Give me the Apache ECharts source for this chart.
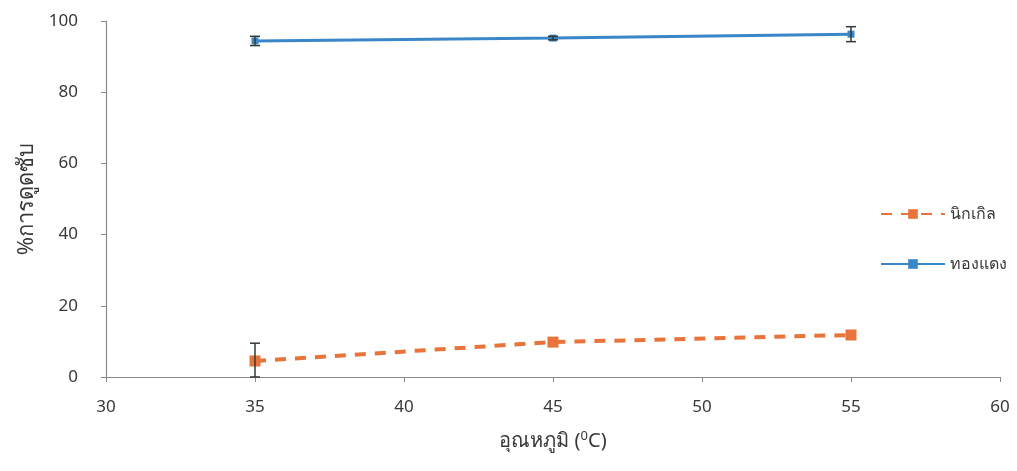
<!DOCTYPE html>
<html>
<head>
<meta charset="utf-8">
<script src="https://cdn.jsdelivr.net/npm/echarts@6/dist/echarts.min.js"></script>
<style>
  html, body { margin: 0; padding: 0; background: #fff; }
  #chart { width: 1017px; height: 471px; }
</style>
</head>
<body>
<div id="chart"></div>
<script>
// Temperature (°C) at which adsorption was measured
const temperatures = [35, 45, 55];
// % adsorption, nickel
const nickelValues = [4.5, 9.8, 11.8];
const nickelErrors = [5.0, 0, 0];
// % adsorption, copper
const copperValues = [94.4, 95.2, 96.3];
const copperErrors = [1.3, 0.5, 2.1];

const xTicks = [30, 35, 40, 45, 50, 55, 60];
const yTicks = [0, 20, 40, 60, 80, 100];

const nickelName = 'นิกเกิล';
const copperName = 'ทองแดง';

const FONT = '"Noto Sans", "Open Sans", sans-serif';
const TEXT = '#383838';

function pairs(xs, ys) { return xs.map((x, i) => [x, ys[i]]); }
function errRows(xs, ys, es) { return xs.map((x, i) => [x, ys[i] - es[i], ys[i] + es[i]]); }

function errorBarSeries(rows) {
  return {
    type: 'custom',
    silent: true,
    z: 5,
    data: rows,
    renderItem: function (params, api) {
      const x = api.value(0);
      if (api.value(2) - api.value(1) <= 0) return null;
      const lo = api.coord([x, Math.max(0, api.value(1))]);
      const hi = api.coord([x, api.value(2)]);
      const half = 5;
      const style = { stroke: '#2f3b35', lineWidth: 1.5 };
      return {
        type: 'group',
        children: [
          { type: 'line', shape: { x1: lo[0], y1: lo[1], x2: hi[0], y2: hi[1] }, style },
          { type: 'line', shape: { x1: hi[0] - half, y1: hi[1], x2: hi[0] + half, y2: hi[1] }, style },
          { type: 'line', shape: { x1: lo[0] - half, y1: lo[1], x2: lo[0] + half, y2: lo[1] }, style }
        ]
      };
    }
  };
}

const chart = echarts.init(document.getElementById('chart'), null, { renderer: 'canvas' });

chart.setOption({
  backgroundColor: '#fff',
  animation: false,
  grid: { left: 106, right: 17, top: 21, bottom: 94 },
  xAxis: {
    type: 'value',
    min: xTicks[0],
    max: xTicks[xTicks.length - 1],
    interval: 5,
    name: '{t|อุณหภูมิ (}{s|0}{t|C)}',
    nameLocation: 'middle',
    nameGap: 53,
    nameTextStyle: {
      rich: {
        t: { fontFamily: FONT, fontSize: 20, color: TEXT },
        s: { fontFamily: FONT, fontSize: 13, color: TEXT, verticalAlign: 'top', padding: [0, 0, 9, 0] }
      }
    },
    axisLine: { lineStyle: { color: '#8a8a8a', width: 1.2 } },
    axisTick: { show: true, length: 5, lineStyle: { color: '#8a8a8a' } },
    axisLabel: { fontFamily: FONT, fontSize: 17, color: TEXT, margin: 22 },
    splitLine: { show: false }
  },
  yAxis: {
    type: 'value',
    min: yTicks[0],
    max: yTicks[yTicks.length - 1],
    interval: 20,
    name: '%การดูดซับ',
    nameLocation: 'middle',
    nameGap: 66,
    nameRotate: 90,
    nameTextStyle: { fontFamily: FONT, fontSize: 22, color: TEXT },
    axisLine: { show: true, lineStyle: { color: '#8a8a8a', width: 1.2 } },
    axisTick: { show: true, length: 5, lineStyle: { color: '#8a8a8a' } },
    axisLabel: { fontFamily: FONT, fontSize: 17, color: TEXT, margin: 28 },
    splitLine: { show: false }
  },
  legend: {
    orient: 'vertical',
    left: 875,
    top: 201,
    itemWidth: 64,
    itemHeight: 12,
    itemGap: 34,
    textStyle: { fontFamily: FONT, fontSize: 16, color: TEXT },
    data: [nickelName, copperName]
  },
  series: [
    {
      name: nickelName,
      type: 'line',
      data: pairs(temperatures, nickelValues),
      symbol: 'rect',
      symbolSize: 11,
      itemStyle: { color: '#e8743b' },
      lineStyle: { color: '#e8743b', width: 4, type: [11, 9] },
      z: 3
    },
    {
      name: copperName,
      type: 'line',
      data: pairs(temperatures, copperValues),
      symbol: 'rect',
      symbolSize: 7,
      itemStyle: { color: '#3a86c8' },
      lineStyle: { color: '#3a86c8', width: 3 },
      z: 3
    },
    errorBarSeries(errRows(temperatures, nickelValues, nickelErrors)),
    errorBarSeries(errRows(temperatures, copperValues, copperErrors))
  ]
});
</script>
</body>
</html>
